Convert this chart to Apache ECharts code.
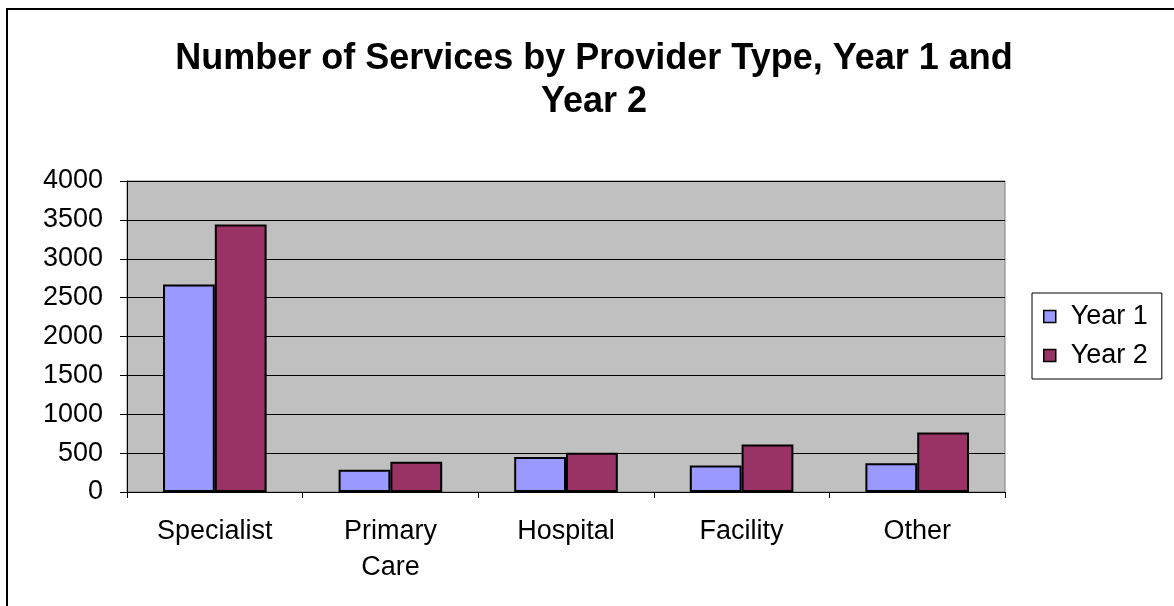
<!DOCTYPE html>
<html><head><meta charset="utf-8">
<script src="https://cdn.jsdelivr.net/npm/echarts@6/dist/echarts.min.js"></script>
<style>html,body{margin:0;padding:0;background:#fff}#c{width:1174px;height:606px}</style>
</head><body><div id="c"></div>
<script>
const categories = ['Specialist', 'Primary\nCare', 'Hospital', 'Facility', 'Other'];
const year1 = [2670, 285, 450, 340, 370];
const year2 = [3440, 390, 505, 610, 765];
const yTicks = {min: 0, max: 4000, interval: 500};
const titleText = 'Number of Services by Provider Type, Year 1 and\nYear 2';

const font = 'Liberation Sans, Arial, sans-serif';
const chart = echarts.init(document.getElementById('c'));
chart.setOption({
  animation: false,
  backgroundColor: '#fff',
  graphic: [{type: 'rect', shape: {x: 7, y: 9, width: 1220, height: 700},
    style: {fill: 'none', stroke: '#000', lineWidth: 2}, z: 100}],
  title: {text: titleText, left: 589, textAlign: 'center', top: 33,
    textStyle: {fontFamily: font, fontWeight: 'bold', fontSize: 36, color: '#000', lineHeight: 43}},
  legend: {orient: 'vertical', left: 1032, top: 293,
    padding: [10, 14, 10, 11], itemGap: 12, itemWidth: 12, itemHeight: 12,
    borderColor: '#000', borderWidth: 1, icon: 'rect',
    itemStyle: {borderColor: '#000', borderWidth: 1.5},
    textStyle: {fontFamily: font, fontSize: 27, color: '#000', padding: [0, 0, 0, 10]},
    data: ['Year 1', 'Year 2']},
  grid: {left: 127, right: 169, top: 181, bottom: 114, show: true,
    backgroundColor: '#C0C0C0', borderColor: '#808080', borderWidth: 1},
  xAxis: {type: 'category', data: categories,
    axisLine: {lineStyle: {color: '#000', width: 1}},
    axisTick: {show: true, length: 6, lineStyle: {color: '#000'}},
    axisLabel: {fontFamily: font, fontSize: 27, color: '#000', margin: 22, lineHeight: 36}},
  yAxis: {type: 'value', min: yTicks.min, max: yTicks.max, interval: yTicks.interval,
    axisLine: {show: true, lineStyle: {color: '#000', width: 1}},
    axisTick: {show: true, length: 7, lineStyle: {color: '#000'}},
    axisLabel: {fontFamily: font, fontSize: 27, color: '#000', margin: 24,
      formatter: v => String(v)},
    splitLine: {lineStyle: {color: '#000', width: 1}}},
  series: [
    {name: 'Year 1', type: 'bar', data: year1, barGap: '0%', barCategoryGap: '41%',
      itemStyle: {color: '#9999FF', borderColor: '#000', borderWidth: 2}},
    {name: 'Year 2', type: 'bar', data: year2, barGap: '0%', barCategoryGap: '41%',
      itemStyle: {color: '#993366', borderColor: '#000', borderWidth: 2}}
  ]
});
</script></body></html>
